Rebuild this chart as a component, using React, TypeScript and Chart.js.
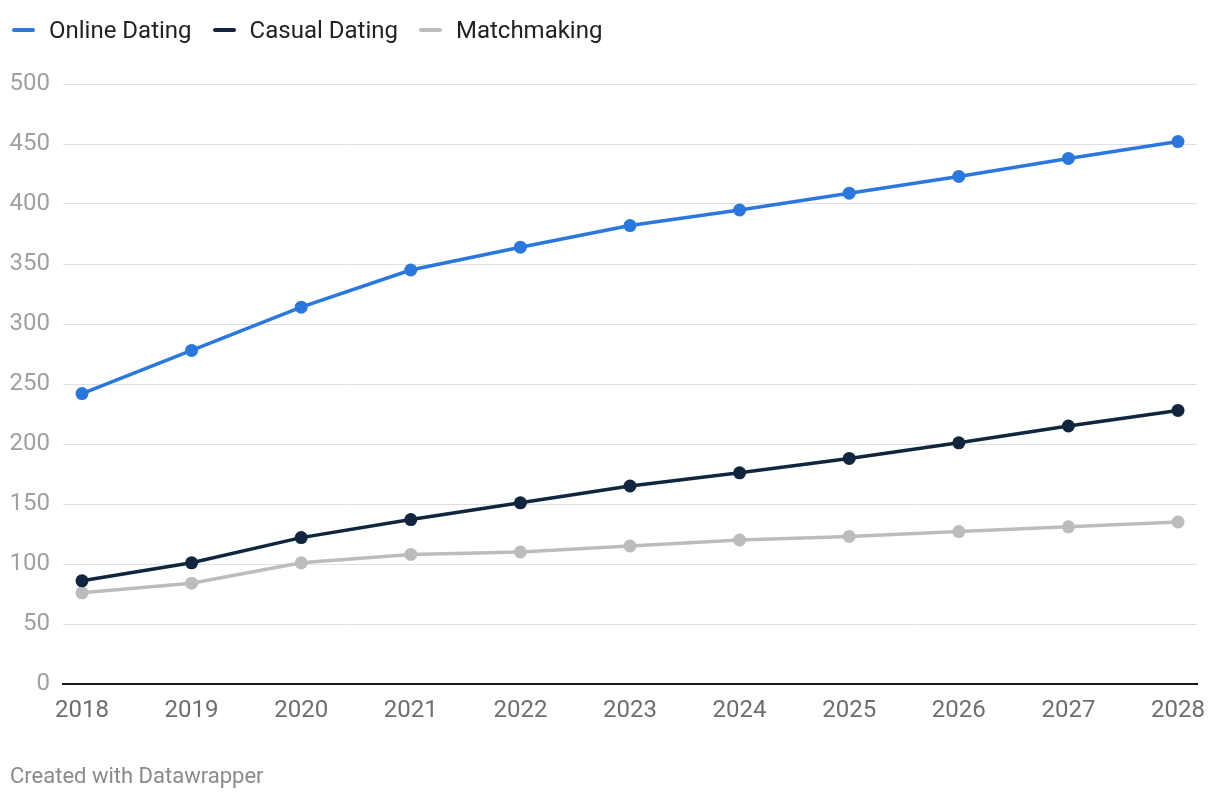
import React, { useEffect, useRef } from "react";
import { Chart, registerables } from "chart.js";

Chart.register(...registerables);

const years = [2018, 2019, 2020, 2021, 2022, 2023, 2024, 2025, 2026, 2027, 2028];
const onlineDating = [242, 278, 314, 345, 364, 382, 395, 409, 423, 438, 452];
const casualDating = [86, 101, 122, 137, 151, 165, 176, 188, 201, 215, 228];
const matchmaking = [76, 84, 101, 108, 110, 115, 120, 123, 127, 131, 135];
const yTicks = [0, 50, 100, 150, 200, 250, 300, 350, 400, 450, 500];

const seriesNames = ["Online Dating", "Casual Dating", "Matchmaking"];
const seriesColors = ["#2a77dd", "#10263e", "#bcbcbc"];
const seriesValues = [onlineDating, casualDating, matchmaking];

const FONT = "Roboto, 'Noto Sans', sans-serif";

export default function App() {
  const ref = useRef<HTMLCanvasElement | null>(null);

  useEffect(() => {
    document.body.style.margin = "0";
    if (!ref.current) return;
    const chart = new Chart(ref.current, {
      type: "line",
      data: {
        datasets: seriesNames.map((name, i) => ({
          label: name,
          data: years.map((y, j) => ({ x: y, y: seriesValues[i][j] })),
          borderColor: seriesColors[i],
          backgroundColor: seriesColors[i],
          pointBackgroundColor: seriesColors[i],
          pointBorderColor: seriesColors[i],
          borderWidth: 3.5,
          pointRadius: 6.5,
          pointBorderWidth: 0,
          tension: 0,
          borderCapStyle: "round",
        })),
      },
      options: {
        animation: false,
        responsive: false,
        layout: { padding: { left: 0, top: 84, right: 23, bottom: 0 } },
        plugins: { legend: { display: false }, tooltip: { enabled: false } },
        scales: {
          x: {
            type: "linear",
            min: 2018 - 19 / 109.6,
            max: 2028 + 19 / 109.6,
            afterBuildTicks: (axis: any) => {
              axis.ticks = years.map((v) => ({ value: v }));
            },
            afterFit: (axis: any) => {
              axis.height = 116;
            },
            grid: { display: false, drawTicks: false },
            border: { display: true, color: "#1a1a1a", width: 2 },
            ticks: {
              autoSkip: false,
              maxRotation: 0,
              padding: 13,
              color: "#6e6e6e",
              font: { family: FONT, size: 24 },
              callback: (v: any) => String(v),
            },
          },
          y: {
            min: 0,
            max: 500,
            afterBuildTicks: (axis: any) => {
              axis.ticks = yTicks.map((v) => ({ value: v }));
            },
            afterFit: (axis: any) => {
              axis.width = 63;
            },
            grid: { color: "#e0e0e0", lineWidth: 1, drawTicks: false },
            border: { display: false },
            ticks: {
              padding: 13,
              color: "#a0a0a0",
              font: { family: FONT, size: 24 },
            },
          },
        },
      },
    });
    return () => chart.destroy();
  }, []);

  return (
    <div style={{ position: "relative", width: 1220, height: 800, fontFamily: FONT }}>
      <canvas ref={ref} width={1220} height={800} style={{ position: "absolute", left: 0, top: 0 }} />
      <div
        style={{
          position: "absolute",
          left: 12,
          top: 15,
          display: "flex",
          alignItems: "center",
          height: 30,
          fontSize: 24,
          color: "#222",
        }}
      >
        {seriesNames.map((name, i) => (
          <div key={name} style={{ display: "flex", alignItems: "center", marginRight: 21 }}>
            <span
              style={{
                display: "inline-block",
                width: 23,
                height: 4,
                borderRadius: 2,
                background: seriesColors[i],
                marginRight: 14,
              }}
            />
            <span>{name}</span>
          </div>
        ))}
      </div>
      <div
        style={{
          position: "absolute",
          left: 10,
          top: 763,
          fontSize: 22,
          lineHeight: "26px",
          color: "#8a8a8a",
        }}
      >
        Created with Datawrapper
      </div>
    </div>
  );
}
